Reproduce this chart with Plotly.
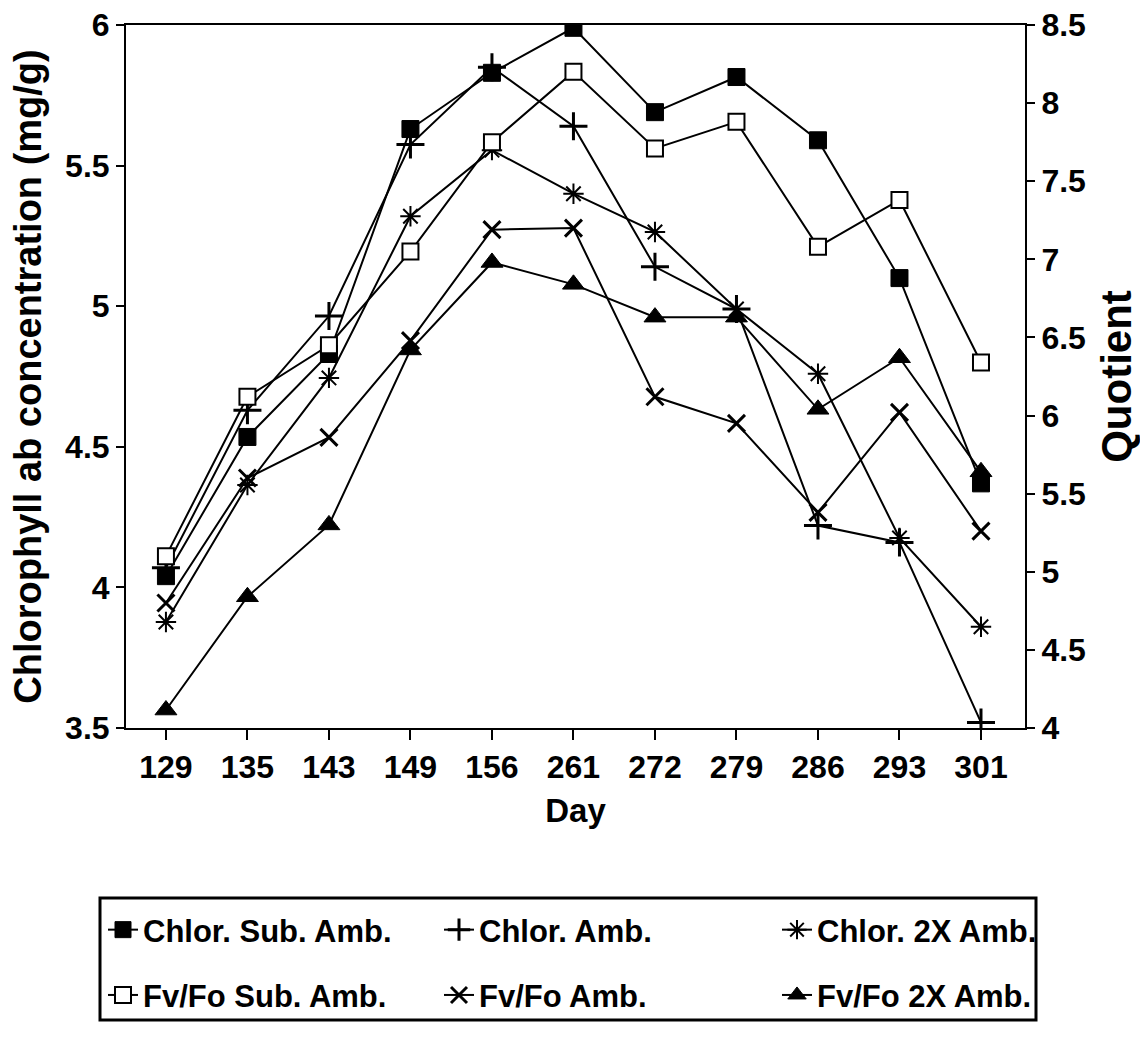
import plotly.graph_objects as go

days = ['129', '135', '143', '149', '156', '261', '272', '279', '286', '293', '301']

chlor_sub = [4.04, 4.535, 4.83, 5.63, 5.83, 5.99, 5.69, 5.815, 5.59, 5.10, 4.37]
chlor_amb = [4.07, 4.63, 4.965, 5.575, 5.85, 5.64, 5.14, 4.99, 4.22, 4.16, 3.52]
chlor_2x = [3.877, 4.364, 4.745, 5.32, 5.555, 5.40, 5.264, 4.99, 4.76, 4.176, 3.86]

fvfo_sub = [5.10, 6.12, 6.45, 7.05, 7.75, 8.20, 7.71, 7.88, 7.08, 7.38, 6.34]
fvfo_amb = [4.80, 5.60, 5.86, 6.48, 7.19, 7.20, 6.12, 5.95, 5.38, 6.02, 5.26]
fvfo_2x = [4.115, 4.84, 5.30, 6.42, 6.98, 6.84, 6.63, 6.63, 6.04, 6.37, 5.64]

FONT = "Liberation Sans Narrow, Arial Narrow, Liberation Sans, Arial, sans-serif"
BLACK = "#000000"

fig = go.Figure()


def add(name, y, axis, symbol, size, fill, lw, legend, group):
    fig.add_trace(go.Scatter(
        x=days, y=y, name=name, yaxis=axis, mode="lines+markers",
        line=dict(color=BLACK, width=2),
        marker=dict(symbol=symbol, size=size,
                    color=(BLACK if fill else "#ffffff"),
                    line=dict(color=BLACK, width=lw)),
        legend=legend, legendgroup=group, showlegend=True,
    ))


add("Chlor. Sub. Amb.", chlor_sub, "y", "square", 17, True, 1, "legend", "a")
add("Fv/Fo Sub. Amb.", fvfo_sub, "y2", "square", 16, False, 2, "legend", "b")
add("Chlor. Amb.", chlor_amb, "y", "cross-thin", 20, True, 3, "legend2", "c")
add("Fv/Fo Amb.", fvfo_amb, "y2", "x-thin", 17, True, 3, "legend2", "d")
add("Chlor. 2X Amb.", chlor_2x, "y", "asterisk", 17, True, 2, "legend3", "e")
add("Fv/Fo 2X Amb.", fvfo_2x, "y2", "triangle-up", 19, True, 1, "legend3", "f")

L, R, T, B = 126, 115, 25, 312
W, H = 1140, 1040
pw = W - L - R
ph = H - T - B


def px(xp):
    return (xp - L) / pw


def py(yp):
    return (H - B - yp) / ph


TICKF = dict(family=FONT, size=32, color=BLACK, weight="bold")

legend_common = dict(
    font=dict(family=FONT, size=31, color=BLACK, weight="bold"),
    orientation="v", bgcolor="rgba(0,0,0,0)", borderwidth=0,
    tracegroupgap=22, yanchor="top", xanchor="left",
    traceorder="grouped",
)

fig.update_layout(
    width=W, height=H,
    margin=dict(l=L, r=R, t=T, b=B, autoexpand=False),
    paper_bgcolor="white", plot_bgcolor="white",
    font=dict(family=FONT, size=32, color=BLACK, weight="bold"),
    xaxis=dict(
        type="category", range=[-0.49, 10.54], automargin=False,
        showline=True, linecolor=BLACK, linewidth=2, mirror=True,
        ticks="outside", ticklen=10, tickwidth=2, tickcolor=BLACK,
        showgrid=False, zeroline=False,
        tickfont=TICKF,
        title=dict(text="Day", font=dict(family=FONT, size=33, color=BLACK, weight="bold"), standoff=14),
    ),
    yaxis=dict(
        range=[3.5, 6], dtick=0.5, tick0=3.5, automargin=False,
        showline=True, linecolor=BLACK, linewidth=2,
        ticks="outside", ticklen=8, tickwidth=2, tickcolor=BLACK,
        showgrid=False, zeroline=False,
        tickfont=TICKF,
        title=dict(text="Chlorophyll ab concentration (mg/g)",
                   font=dict(family=FONT, size=38, color=BLACK, weight="bold"), standoff=12),
    ),
    yaxis2=dict(
        range=[4, 8.5], dtick=0.5, tick0=4, overlaying="y", side="right", automargin=False,
        showline=True, linecolor=BLACK, linewidth=2,
        ticks="outside", ticklen=8, tickwidth=2, tickcolor=BLACK,
        showgrid=False, zeroline=False,
        tickfont=TICKF,
        title=dict(text="Quotient",
                   font=dict(family=FONT, size=42, color=BLACK, weight="bold"), standoff=28),
    ),
    legend=dict(x=px(103), y=py(903), **legend_common),
    legend2=dict(x=px(439), y=py(903), **legend_common),
    legend3=dict(x=px(777), y=py(903), **legend_common),
    shapes=[dict(type="rect", xref="paper", yref="paper",
                 x0=px(100), x1=px(1036), y0=py(898), y1=py(1020),
                 line=dict(color=BLACK, width=3), fillcolor="rgba(0,0,0,0)", layer="below")],
)

fig.write_html("out.html")
